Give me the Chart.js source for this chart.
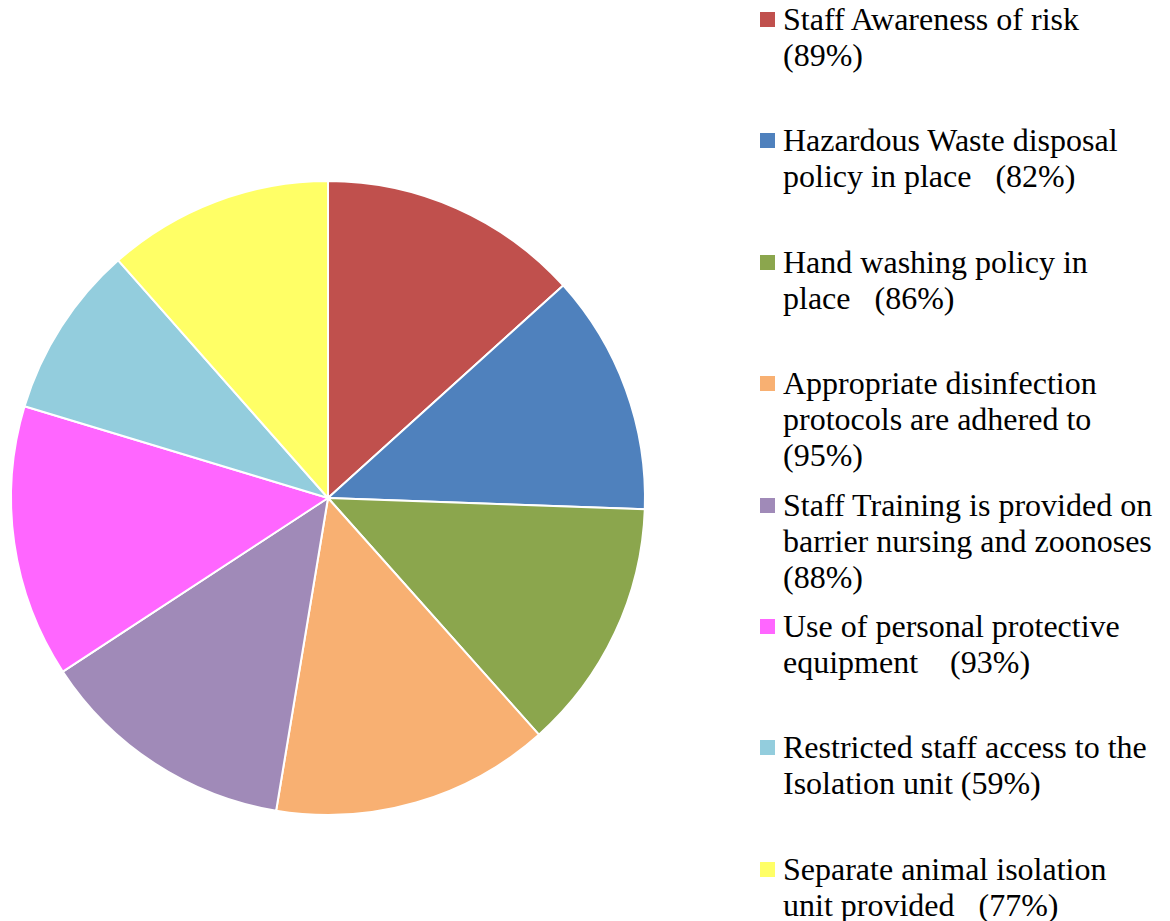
<!DOCTYPE html>
<html>
<head>
<meta charset="utf-8">
<script src="https://cdn.jsdelivr.net/npm/chart.js@4.4.0/dist/chart.umd.min.js"></script>
<style>
    body { margin: 0; background: #fff; width: 1170px; height: 921px; position: relative; overflow: hidden; }
    #pieBox { position: absolute; left: 0; top: 170px; width: 656px; height: 656px; }
    #legend { position: absolute; left: 760px; top: 0; font-family: "Liberation Serif", "Times New Roman", serif; font-size: 32px; color: #000; }
    .item { position: relative; height: 121.4px; padding-left: 23px; line-height: 36px; }
    .item:first-child { margin-top: 1px; }
    .box { position: absolute; left: 0; top: 11px; width: 15px; height: 15px; }
</style>
</head>
<body>
<div id="pieBox"><canvas id="myChart" width="656" height="656"></canvas></div>
<div id="legend"></div>
<script>
let labels = [
    ["Staff Awareness of risk", "(89%)"],
    ["Hazardous Waste disposal", "policy in place   (82%)"],
    ["Hand washing policy in", "place   (86%)"],
    ["Appropriate disinfection", "protocols are adhered to", "(95%)"],
    ["Staff Training is provided on", "barrier nursing and zoonoses", "(88%)"],
    ["Use of personal protective", "equipment    (93%)"],
    ["Restricted staff access to the", "Isolation unit (59%)"],
    ["Separate animal isolation", "unit provided   (77%)"]
];
let values = [89, 82, 86, 95, 88, 93, 59, 77];
let colors = ["#C0504D", "#4F81BD", "#8BA64D", "#F8B072", "#A08AB8", "#FF66FF", "#93CDDD", "#FFFF66"];

let chart = new Chart("myChart", {
    type: "pie",
    data: {
        labels: labels,
        datasets: [{
            data: values,
            backgroundColor: colors,
            borderColor: "#ffffff",
            borderWidth: 2
        }]
    },
    options: {
        responsive: false,
        animation: false,
        layout: {padding: 10},
        plugins: {
            legend: {display: false},
            tooltip: {enabled: false}
        }
    }
});

// legend built from the chart's own data
let legend = document.getElementById("legend");
chart.data.labels.forEach(function (lines, i) {
    let item = document.createElement("div");
    item.className = "item";
    let box = document.createElement("span");
    box.className = "box";
    box.style.background = chart.data.datasets[0].backgroundColor[i];
    item.appendChild(box);
    lines.forEach(function (line) {
        let row = document.createElement("div");
        row.style.whiteSpace = "pre";
        row.textContent = line;
        item.appendChild(row);
    });
    legend.appendChild(item);
});
</script>
</body>
</html>
